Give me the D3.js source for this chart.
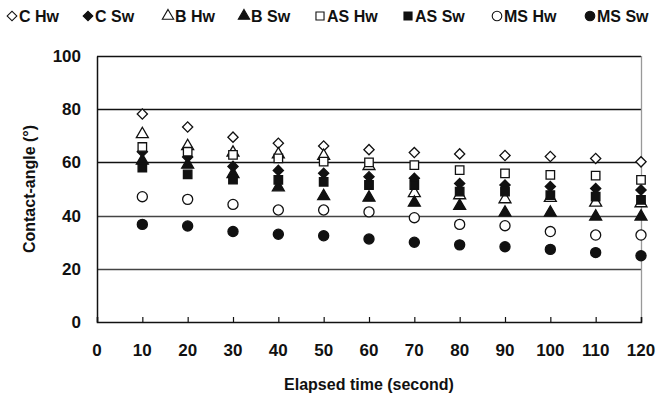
<!DOCTYPE html>
<html>
<head>
<meta charset="utf-8">
<script src="https://cdn.jsdelivr.net/npm/d3@7"></script>
<style>
  body { margin: 0; background: #fff; }
  text { font-family: "Liberation Sans", Arial, sans-serif; font-weight: bold; }
</style>
</head>
<body>
<div id="chart"></div>
<script>
// contact-angle vs elapsed time

var times = [10, 20, 30, 40, 50, 60, 70, 80, 90, 100, 110, 120];
var xTicks = [0, 10, 20, 30, 40, 50, 60, 70, 80, 90, 100, 110, 120];
var yTicks = [0, 20, 40, 60, 80, 100];

var cHw  = [78.2, 73.3, 69.5, 67.2, 66.2, 64.8, 63.7, 63.2, 62.6, 62.2, 61.5, 60.2];
var cSw  = [64, 62, 58.5, 57, 55.9, 54.6, 54, 52.1, 51.5, 50.9, 50.2, 49.6];
var bHw  = [71, 66.5, 64, 63.4, 62.8, 59, 48.8, 48, 46.5, 47, 45.2, 45];
var bSw  = [61, 59.5, 56, 51, 47.7, 47.1, 45.2, 44, 41.5, 41.5, 40, 40];
var asHw = [65.8, 64, 62.8, 61.5, 60.3, 60, 59, 57.1, 55.9, 55.3, 55, 53.4];
var asSw = [58, 55.5, 53.5, 53.4, 52.7, 51.5, 51.5, 49, 49, 47.7, 47.1, 45.9];
var msHw = [47.1, 46.1, 44.2, 42.1, 42.1, 41.4, 39.2, 36.7, 36.2, 34, 32.7, 32.7];
var msSw = [36.7, 36.1, 34, 33, 32.4, 31.2, 30, 29, 28.3, 27.3, 26.1, 24.9];

var seriesNames = ['C Hw', 'C Sw', 'B Hw', 'B Sw', 'AS Hw', 'AS Sw', 'MS Hw', 'MS Sw'];
var seriesValues = [cHw, cSw, bHw, bSw, asHw, asSw, msHw, msSw];
var seriesShapes = ['diamond', 'diamond', 'triangle', 'triangle', 'square', 'square', 'circle', 'circle'];
var seriesFilled = [false, true, false, true, false, true, false, true];

var width = 672,
	height = 399,
	margin = { top: 56, bottom: 77, left: 97, right: 31 },
	drawWidth = width - margin.left - margin.right,
	drawHeight = height - margin.top - margin.bottom;

var svg = d3.select('#chart').append('svg')
	.attr('width', width)
	.attr('height', height);

var g = svg.append('g')
	.attr('transform', 'translate(' + margin.left + ',' + margin.top + ')');

var xScale = d3.scaleLinear().domain([0, 120]).range([0, drawWidth]);
var yScale = d3.scaleLinear().domain([0, 100]).range([drawHeight, 0]);

// horizontal grid lines
g.selectAll('.grid')
	.data(yTicks.filter(function(d) { return d > 0; }))
	.enter().append('line')
	.attr('class', 'grid')
	.attr('x1', 0)
	.attr('x2', drawWidth)
	.attr('y1', function(d) { return Math.round(yScale(d)) + 0.5; })
	.attr('y2', function(d) { return Math.round(yScale(d)) + 0.5; })
	.attr('stroke', function(d) { return d < 60 ? '#444' : '#111'; })
	.attr('stroke-width', 1.3);

// right border
g.append('line')
	.attr('x1', drawWidth + 0.5).attr('x2', drawWidth + 0.5)
	.attr('y1', 0).attr('y2', drawHeight)
	.attr('stroke', '#999')
	.attr('stroke-width', 1.3);

// axes
var xAxis = d3.axisBottom(xScale).tickValues(xTicks).tickSize(-5).tickFormat('');
var yAxis = d3.axisLeft(yScale).tickValues(yTicks).tickSize(0).tickFormat('');

var xAxisG = g.append('g')
	.attr('transform', 'translate(0,' + drawHeight + ')')
	.call(xAxis);
var yAxisG = g.append('g').call(yAxis);

[xAxisG, yAxisG].forEach(function(a) {
	a.select('.domain').attr('stroke', '#111').attr('stroke-width', 1.5);
	a.selectAll('.tick line').attr('stroke', '#111').attr('stroke-width', 1.2);
});

// tick labels
g.selectAll('.xlab')
	.data(xTicks)
	.enter().append('text')
	.attr('x', function(d) { return xScale(d); })
	.attr('y', drawHeight + 34)
	.attr('text-anchor', 'middle')
	.attr('font-size', 17)
	.attr('fill', '#111')
	.text(function(d) { return d; });

g.selectAll('.ylab')
	.data(yTicks)
	.enter().append('text')
	.attr('x', -16)
	.attr('y', function(d) { return yScale(d); })
	.attr('dy', '0.35em')
	.attr('text-anchor', 'end')
	.attr('font-size', 17)
	.attr('fill', '#111')
	.text(function(d) { return d; });

// axis titles
svg.append('text')
	.attr('x', margin.left + drawWidth / 2)
	.attr('y', 390)
	.attr('text-anchor', 'middle')
	.attr('font-size', 16)
	.attr('fill', '#111')
	.text('Elapsed time (second)');

svg.append('text')
	.attr('transform', 'translate(35,' + (margin.top + drawHeight / 2) + ') rotate(-90)')
	.attr('text-anchor', 'middle')
	.attr('font-size', 16)
	.attr('fill', '#111')
	.text('Contact-angle (°)');

// marker shapes
var symbolFor = function(shape, scale) {
	var s = scale || 1;
	if (shape === 'diamond') return d3.symbol().type(d3.symbolSquare).size(52 * s * s)();
	if (shape === 'triangle') return d3.symbol().type(d3.symbolTriangle).size(62 * s * s)();
	if (shape === 'square') return d3.symbol().type(d3.symbolSquare).size(72 * s * s)();
	return d3.symbol().type(d3.symbolCircle).size(80 * s * s)();
};

var drawMarker = function(sel, i, s) {
	sel.attr('d', symbolFor(seriesShapes[i], s))
		.attr('fill', seriesFilled[i] ? '#111' : '#fff')
		.attr('stroke', '#111')
		.attr('stroke-width', 1.3);
};

seriesValues.forEach(function(vals, i) {
	var pts = g.append('g').selectAll('path')
		.data(vals)
		.enter().append('path')
		.attr('transform', function(d, j) {
			var t = 'translate(' + xScale(times[j]) + ',' + yScale(d) + ')';
			if (seriesShapes[i] === 'diamond') t += ' rotate(45)';
			if (seriesShapes[i] === 'triangle') t += ' translate(0,1)';
			return t;
		});
	drawMarker(pts, i, 1);
});

// legend
var legendX = [12, 88, 168, 244, 320, 408, 497, 590];
var legend = svg.append('g').selectAll('g')
	.data(seriesNames)
	.enter().append('g')
	.attr('transform', function(d, i) { return 'translate(' + legendX[i] + ',16)'; });

legend.append('path')
	.each(function(d, i) {
		var p = d3.select(this);
		drawMarker(p, i, 0.95);
		if (seriesShapes[i] === 'diamond') p.attr('transform', 'rotate(45)');
		p.attr('stroke-width', 1.1);
	});

legend.append('text')
	.attr('x', 7)
	.attr('dy', '0.36em')
	.attr('font-size', 16)
	.attr('fill', '#111')
	.text(function(d) { return d; });
</script>
</body>
</html>
